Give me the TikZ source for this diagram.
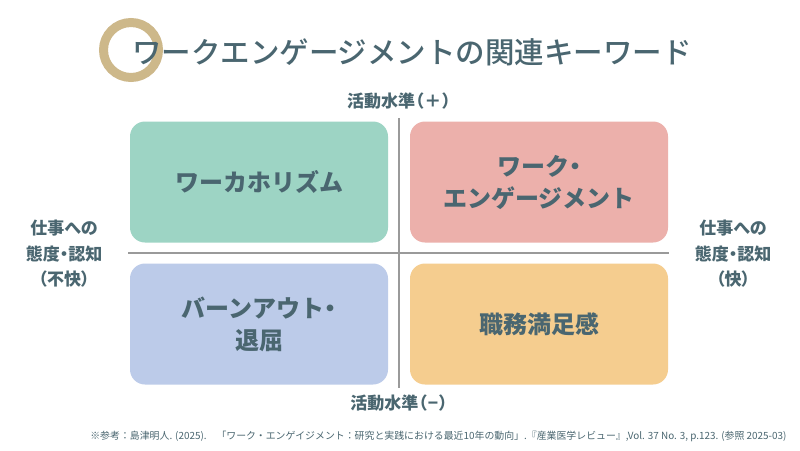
\documentclass[tikz,border=0pt]{standalone}
\usepackage{fontspec}
\setmainfont{Noto Sans CJK JP}
\newfontfamily\titlefont{Noto Sans CJK JP Medium}
\newfontfamily\paltfont[RawFeature=+palt]{Noto Sans CJK JP}
\newcommand\mydot{\kern-.25em・\kern-.25em}
\newcommand\lpar{\kern2.5pt（}
\newcommand\rpar{）\kern2.5pt}
\usetikzlibrary{positioning}
\definecolor{inkteal}{HTML}{4A6670}
\definecolor{ringgold}{HTML}{CDB88A}
\definecolor{axisgray}{HTML}{9A9A9A}
\definecolor{boxgreen}{HTML}{9DD4C4}
\definecolor{boxpink}{HTML}{ECB0AB}
\definecolor{boxblue}{HTML}{BCCBE9}
\definecolor{boxorange}{HTML}{F5CD8F}
\begin{document}
\begin{tikzpicture}[x=1pt,y=-1pt]
    \tikzstyle{quad}=[rounded corners=15pt,minimum width=258pt,minimum height=121pt,inner sep=0pt,align=center,text=inkteal,font=\fontsize{24}{32}\selectfont\bfseries]
    \tikzstyle{side}=[align=center,text=inkteal,font=\paltfont\fontsize{17}{25.5}\selectfont\bfseries]
    \useasboundingbox (0,0) rectangle (800,450);
    \fill[white] (0,0) rectangle (800,450);

      \draw[ringgold,line width=9pt] (131,50) circle (27.5);
      \node (title) at (412,52) [text=inkteal,font=\titlefont\fontsize{29.5}{30}\selectfont] {ワークエンゲージメントの関連キーワード};

      \node (wa) at (259,182) [quad,fill=boxgreen] {ワーカホリズム};
      \node (en) at (539,182) [quad,fill=boxpink] {ワーク\mydot\\エンゲージメント};
      \node (bo) at (259,324) [quad,fill=boxblue] {バーンアウト\mydot\\退屈};
      \node (sa) at (539,324) [quad,fill=boxorange] {職務満足感};

      \node (top) at (399,101) [side] {活動水準（\kern1pt＋\kern1pt）};
      \node (bot) at (399,403) [side] {活動水準（\kern1pt−\kern1pt）};
      \node (left) at (64,254) [side] {仕事への\\態度・認知\\\lpar 不快\rpar};
      \node (right) at (733,254) [side] {仕事への\\態度・認知\\\lpar 快\rpar};

      \coordinate (vtop) at (399,118);
      \coordinate (vbot) at (399,388);
      \coordinate (hleft) at (128,253);
      \coordinate (hright) at (669,253);
      \draw[axisgray,line width=1.5pt] (vtop) -- (vbot);
      \draw[axisgray,line width=1.5pt] (hleft) -- (hright);

      \node (note) at (790,436) [anchor=east,text=inkteal,font=\fontsize{9.9}{11}\selectfont] {※参考：島津明人. (2025).　「ワーク・エンゲイジメント：研究と実践における最近10年の動向」.『産業医学レビュー』,Vol. 37 No. 3, p.123. (参照 2025-03)};
  \end{tikzpicture}
\end{document}
